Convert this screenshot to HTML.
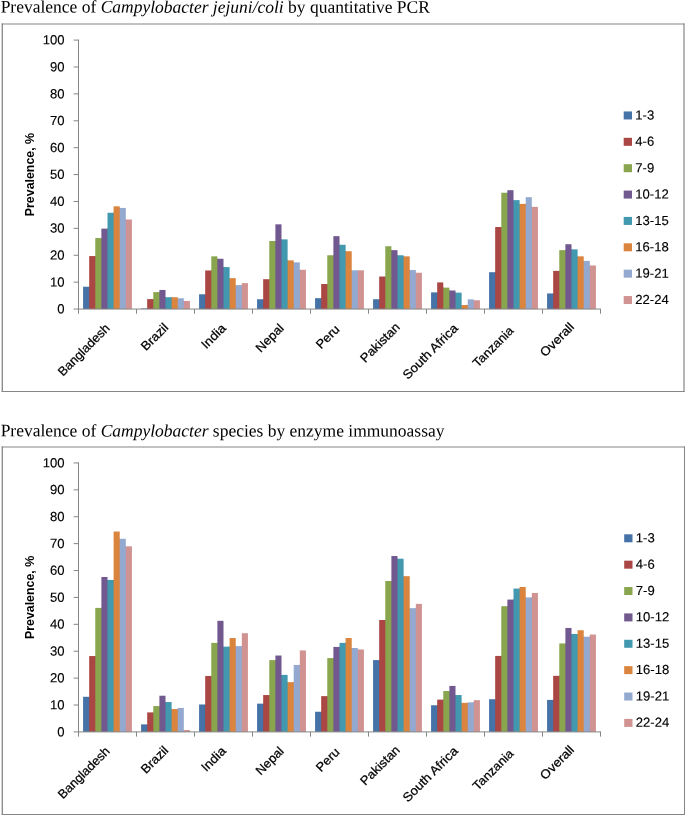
<!DOCTYPE html>
<html><head><meta charset="utf-8"><title>Campylobacter prevalence</title>
<style>
html,body{margin:0;padding:0;background:#fff;}
body{width:685px;height:815px;overflow:hidden;font-family:"Liberation Sans",sans-serif;}
svg{display:block;will-change:transform;}
svg text.s{stroke:#000;stroke-width:0.25px;}
</style></head><body>
<svg width="685" height="815" viewBox="0 0 685 815" font-family="'Liberation Sans', sans-serif">
<rect width="685" height="815" fill="#fff"/>
<text transform="translate(0.65 12.55) rotate(0.03)" font-family="'Liberation Serif', serif" font-size="17.49" style="white-space:pre">Prevalence of <tspan font-style="italic">Campylobacter jejuni/coli</tspan> by quantitative PCR</text>
<text transform="translate(0.65 436.35) rotate(0.03)" font-family="'Liberation Serif', serif" font-size="17.49" style="white-space:pre">Prevalence of <tspan font-style="italic">Campylobacter</tspan> species by enzyme immunoassay</text>
<g class="s"><g stroke="#868686" fill="none">
<line x1="2.3" y1="23.4" x2="2.3" y2="392.025" stroke-width="1.3"/>
<line x1="684.0" y1="23.4" x2="684.0" y2="392.025" stroke-width="1.2"/>
<line x1="1.65" y1="24.0" x2="684.6" y2="24.0" stroke-width="1.2"/>
<line x1="1.65" y1="391.5" x2="684.6" y2="391.5" stroke-width="1.05"/>
</g>
<rect x="89" y="286.73" width="1" height="22.32" fill="#4572A7"/>
<rect x="95" y="256.07" width="1" height="52.98" fill="#AA4643"/>
<rect x="101" y="238.05" width="1" height="71.00" fill="#89A54E"/>
<rect x="107" y="228.63" width="1" height="80.42" fill="#71588F"/>
<rect x="113" y="212.77" width="1" height="96.28" fill="#4198AF"/>
<rect x="119" y="207.92" width="1" height="101.13" fill="#DB843D"/>
<rect x="125" y="219.49" width="1" height="89.56" fill="#93A9CF"/>
<rect x="83.08" y="286.73" width="6.11" height="22.32" fill="#4572A7"/>
<rect x="89.18" y="256.07" width="6.11" height="52.98" fill="#AA4643"/>
<rect x="95.29" y="238.05" width="6.11" height="71.00" fill="#89A54E"/>
<rect x="101.39" y="228.63" width="6.11" height="80.42" fill="#71588F"/>
<rect x="107.50" y="212.77" width="6.11" height="96.28" fill="#4198AF"/>
<rect x="113.61" y="206.31" width="6.11" height="102.74" fill="#DB843D"/>
<rect x="119.71" y="207.92" width="6.11" height="101.13" fill="#93A9CF"/>
<rect x="125.82" y="219.49" width="6.11" height="89.56" fill="#D19392"/>
<rect x="147" y="308.51" width="1" height="0.54" fill="#4572A7"/>
<rect x="153" y="299.10" width="1" height="9.95" fill="#AA4643"/>
<rect x="159" y="292.11" width="1" height="16.94" fill="#89A54E"/>
<rect x="165" y="297.22" width="1" height="11.83" fill="#71588F"/>
<rect x="171" y="297.22" width="1" height="11.83" fill="#4198AF"/>
<rect x="177" y="298.29" width="1" height="10.76" fill="#DB843D"/>
<rect x="183" y="300.98" width="1" height="8.07" fill="#93A9CF"/>
<rect x="141.08" y="308.51" width="6.11" height="0.54" fill="#4572A7"/>
<rect x="147.18" y="299.10" width="6.11" height="9.95" fill="#AA4643"/>
<rect x="153.29" y="292.11" width="6.11" height="16.94" fill="#89A54E"/>
<rect x="159.39" y="289.95" width="6.11" height="19.10" fill="#71588F"/>
<rect x="165.50" y="297.22" width="6.11" height="11.83" fill="#4198AF"/>
<rect x="171.61" y="297.22" width="6.11" height="11.83" fill="#DB843D"/>
<rect x="177.71" y="298.29" width="6.11" height="10.76" fill="#93A9CF"/>
<rect x="183.82" y="300.98" width="6.11" height="8.07" fill="#D19392"/>
<rect x="205" y="294.26" width="1" height="14.79" fill="#4572A7"/>
<rect x="211" y="270.46" width="1" height="38.59" fill="#AA4643"/>
<rect x="217" y="258.76" width="1" height="50.29" fill="#89A54E"/>
<rect x="223" y="267.09" width="1" height="41.96" fill="#71588F"/>
<rect x="229" y="278.12" width="1" height="30.93" fill="#4198AF"/>
<rect x="235" y="285.11" width="1" height="23.94" fill="#DB843D"/>
<rect x="241" y="285.11" width="1" height="23.94" fill="#93A9CF"/>
<rect x="199.08" y="294.26" width="6.11" height="14.79" fill="#4572A7"/>
<rect x="205.18" y="270.46" width="6.11" height="38.59" fill="#AA4643"/>
<rect x="211.29" y="256.34" width="6.11" height="52.71" fill="#89A54E"/>
<rect x="217.39" y="258.76" width="6.11" height="50.29" fill="#71588F"/>
<rect x="223.50" y="267.09" width="6.11" height="41.96" fill="#4198AF"/>
<rect x="229.61" y="278.12" width="6.11" height="30.93" fill="#DB843D"/>
<rect x="235.71" y="285.11" width="6.11" height="23.94" fill="#93A9CF"/>
<rect x="241.82" y="283.10" width="6.11" height="25.95" fill="#D19392"/>
<rect x="263" y="299.23" width="1" height="9.82" fill="#4572A7"/>
<rect x="269" y="279.20" width="1" height="29.85" fill="#AA4643"/>
<rect x="275" y="241.01" width="1" height="68.04" fill="#89A54E"/>
<rect x="281" y="239.39" width="1" height="69.66" fill="#71588F"/>
<rect x="287" y="260.37" width="1" height="48.68" fill="#4198AF"/>
<rect x="293" y="262.39" width="1" height="46.66" fill="#DB843D"/>
<rect x="299" y="269.78" width="1" height="39.27" fill="#93A9CF"/>
<rect x="257.08" y="299.23" width="6.11" height="9.82" fill="#4572A7"/>
<rect x="263.18" y="279.20" width="6.11" height="29.85" fill="#AA4643"/>
<rect x="269.29" y="241.01" width="6.11" height="68.04" fill="#89A54E"/>
<rect x="275.39" y="224.33" width="6.11" height="84.72" fill="#71588F"/>
<rect x="281.50" y="239.39" width="6.11" height="69.66" fill="#4198AF"/>
<rect x="287.61" y="260.37" width="6.11" height="48.68" fill="#DB843D"/>
<rect x="293.71" y="262.39" width="6.11" height="46.66" fill="#93A9CF"/>
<rect x="299.82" y="269.78" width="6.11" height="39.27" fill="#D19392"/>
<rect x="321" y="298.16" width="1" height="10.89" fill="#4572A7"/>
<rect x="327" y="284.04" width="1" height="25.01" fill="#AA4643"/>
<rect x="333" y="255.26" width="1" height="53.79" fill="#89A54E"/>
<rect x="339" y="244.77" width="1" height="64.28" fill="#71588F"/>
<rect x="345" y="251.23" width="1" height="57.82" fill="#4198AF"/>
<rect x="351" y="270.32" width="1" height="38.73" fill="#DB843D"/>
<rect x="357" y="270.32" width="1" height="38.73" fill="#93A9CF"/>
<rect x="315.08" y="298.16" width="6.11" height="10.89" fill="#4572A7"/>
<rect x="321.18" y="284.04" width="6.11" height="25.01" fill="#AA4643"/>
<rect x="327.29" y="255.26" width="6.11" height="53.79" fill="#89A54E"/>
<rect x="333.39" y="236.16" width="6.11" height="72.89" fill="#71588F"/>
<rect x="339.50" y="244.77" width="6.11" height="64.28" fill="#4198AF"/>
<rect x="345.61" y="251.23" width="6.11" height="57.82" fill="#DB843D"/>
<rect x="351.71" y="270.32" width="6.11" height="38.73" fill="#93A9CF"/>
<rect x="357.82" y="270.32" width="6.11" height="38.73" fill="#D19392"/>
<rect x="379" y="299.23" width="1" height="9.82" fill="#4572A7"/>
<rect x="385" y="276.51" width="1" height="32.54" fill="#AA4643"/>
<rect x="391" y="250.15" width="1" height="58.90" fill="#89A54E"/>
<rect x="397" y="255.26" width="1" height="53.79" fill="#71588F"/>
<rect x="403" y="256.34" width="1" height="52.71" fill="#4198AF"/>
<rect x="409" y="270.05" width="1" height="39.00" fill="#DB843D"/>
<rect x="415" y="272.74" width="1" height="36.31" fill="#93A9CF"/>
<rect x="373.08" y="299.23" width="6.11" height="9.82" fill="#4572A7"/>
<rect x="379.18" y="276.51" width="6.11" height="32.54" fill="#AA4643"/>
<rect x="385.29" y="246.25" width="6.11" height="62.80" fill="#89A54E"/>
<rect x="391.39" y="250.15" width="6.11" height="58.90" fill="#71588F"/>
<rect x="397.50" y="255.26" width="6.11" height="53.79" fill="#4198AF"/>
<rect x="403.61" y="256.34" width="6.11" height="52.71" fill="#DB843D"/>
<rect x="409.71" y="270.05" width="6.11" height="39.00" fill="#93A9CF"/>
<rect x="415.82" y="272.74" width="6.11" height="36.31" fill="#D19392"/>
<rect x="437" y="292.38" width="1" height="16.67" fill="#4572A7"/>
<rect x="443" y="287.64" width="1" height="21.41" fill="#AA4643"/>
<rect x="449" y="290.49" width="1" height="18.56" fill="#89A54E"/>
<rect x="455" y="292.64" width="1" height="16.41" fill="#71588F"/>
<rect x="461" y="305.02" width="1" height="4.03" fill="#4198AF"/>
<rect x="467" y="305.02" width="1" height="4.03" fill="#DB843D"/>
<rect x="473" y="300.28" width="1" height="8.77" fill="#93A9CF"/>
<rect x="431.08" y="292.38" width="6.11" height="16.67" fill="#4572A7"/>
<rect x="437.18" y="282.42" width="6.11" height="26.63" fill="#AA4643"/>
<rect x="443.29" y="287.64" width="6.11" height="21.41" fill="#89A54E"/>
<rect x="449.39" y="290.49" width="6.11" height="18.56" fill="#71588F"/>
<rect x="455.50" y="292.64" width="6.11" height="16.41" fill="#4198AF"/>
<rect x="461.61" y="305.02" width="6.11" height="4.03" fill="#DB843D"/>
<rect x="467.71" y="299.37" width="6.11" height="9.68" fill="#93A9CF"/>
<rect x="473.82" y="300.28" width="6.11" height="8.77" fill="#D19392"/>
<rect x="495" y="272.20" width="1" height="36.85" fill="#4572A7"/>
<rect x="501" y="227.02" width="1" height="82.03" fill="#AA4643"/>
<rect x="507" y="192.73" width="1" height="116.32" fill="#89A54E"/>
<rect x="513" y="200.13" width="1" height="108.92" fill="#71588F"/>
<rect x="519" y="203.89" width="1" height="105.16" fill="#4198AF"/>
<rect x="525" y="203.89" width="1" height="105.16" fill="#DB843D"/>
<rect x="531" y="206.85" width="1" height="102.20" fill="#93A9CF"/>
<rect x="489.08" y="272.20" width="6.11" height="36.85" fill="#4572A7"/>
<rect x="495.18" y="227.02" width="6.11" height="82.03" fill="#AA4643"/>
<rect x="501.29" y="192.73" width="6.11" height="116.32" fill="#89A54E"/>
<rect x="507.39" y="190.17" width="6.11" height="118.88" fill="#71588F"/>
<rect x="513.50" y="200.13" width="6.11" height="108.92" fill="#4198AF"/>
<rect x="519.61" y="203.89" width="6.11" height="105.16" fill="#DB843D"/>
<rect x="525.71" y="197.17" width="6.11" height="111.88" fill="#93A9CF"/>
<rect x="531.82" y="206.85" width="6.11" height="102.20" fill="#D19392"/>
<rect x="553" y="293.45" width="1" height="15.60" fill="#4572A7"/>
<rect x="559" y="270.86" width="1" height="38.19" fill="#AA4643"/>
<rect x="565" y="250.15" width="1" height="58.90" fill="#89A54E"/>
<rect x="571" y="249.34" width="1" height="59.71" fill="#71588F"/>
<rect x="577" y="256.34" width="1" height="52.71" fill="#4198AF"/>
<rect x="583" y="260.91" width="1" height="48.14" fill="#DB843D"/>
<rect x="589" y="265.48" width="1" height="43.57" fill="#93A9CF"/>
<rect x="547.08" y="293.45" width="6.11" height="15.60" fill="#4572A7"/>
<rect x="553.18" y="270.86" width="6.11" height="38.19" fill="#AA4643"/>
<rect x="559.29" y="250.15" width="6.11" height="58.90" fill="#89A54E"/>
<rect x="565.39" y="244.23" width="6.11" height="64.82" fill="#71588F"/>
<rect x="571.50" y="249.34" width="6.11" height="59.71" fill="#4198AF"/>
<rect x="577.61" y="256.34" width="6.11" height="52.71" fill="#DB843D"/>
<rect x="583.71" y="260.91" width="6.11" height="48.14" fill="#93A9CF"/>
<rect x="589.82" y="265.48" width="6.11" height="43.57" fill="#D19392"/>
<g stroke="#868686" stroke-width="1" fill="none">
<line x1="78.5" y1="39.60" x2="78.5" y2="313.75"/>
<line x1="73.6" y1="309.05" x2="601.00" y2="309.05"/>
<line x1="73.6" y1="282.16" x2="78.5" y2="282.16"/>
<line x1="73.6" y1="255.26" x2="78.5" y2="255.26"/>
<line x1="73.6" y1="228.37" x2="78.5" y2="228.37"/>
<line x1="73.6" y1="201.47" x2="78.5" y2="201.47"/>
<line x1="73.6" y1="174.58" x2="78.5" y2="174.58"/>
<line x1="73.6" y1="147.68" x2="78.5" y2="147.68"/>
<line x1="73.6" y1="120.79" x2="78.5" y2="120.79"/>
<line x1="73.6" y1="93.89" x2="78.5" y2="93.89"/>
<line x1="73.6" y1="67.00" x2="78.5" y2="67.00"/>
<line x1="73.6" y1="40.10" x2="78.5" y2="40.10"/>
<line x1="136.50" y1="309.05" x2="136.50" y2="313.75"/>
<line x1="194.50" y1="309.05" x2="194.50" y2="313.75"/>
<line x1="252.50" y1="309.05" x2="252.50" y2="313.75"/>
<line x1="310.50" y1="309.05" x2="310.50" y2="313.75"/>
<line x1="368.50" y1="309.05" x2="368.50" y2="313.75"/>
<line x1="426.50" y1="309.05" x2="426.50" y2="313.75"/>
<line x1="484.50" y1="309.05" x2="484.50" y2="313.75"/>
<line x1="542.50" y1="309.05" x2="542.50" y2="313.75"/>
<line x1="600.50" y1="309.05" x2="600.50" y2="313.75"/>
</g>
<g font-size="13.1" text-anchor="end" fill="#000" stroke="#000" stroke-width="0.15">
<text transform="translate(64.5 313.30) rotate(0.03)">0</text>
<text transform="translate(64.5 286.41) rotate(0.03)">10</text>
<text transform="translate(64.5 259.51) rotate(0.03)">20</text>
<text transform="translate(64.5 232.62) rotate(0.03)">30</text>
<text transform="translate(64.5 205.72) rotate(0.03)">40</text>
<text transform="translate(64.5 178.83) rotate(0.03)">50</text>
<text transform="translate(64.5 151.93) rotate(0.03)">60</text>
<text transform="translate(64.5 125.04) rotate(0.03)">70</text>
<text transform="translate(64.5 98.14) rotate(0.03)">80</text>
<text transform="translate(64.5 71.25) rotate(0.03)">90</text>
<text transform="translate(64.5 44.35) rotate(0.03)">100</text>
</g>
<text transform="translate(34.2 174.58) rotate(-90)" text-anchor="middle" font-weight="bold" font-size="12.5" textLength="83.3" lengthAdjust="spacingAndGlyphs">Prevalence, %</text>
<text class="s" transform="translate(110.65 329.00) rotate(-45)" text-anchor="end" font-size="12.5" textLength="67.5" lengthAdjust="spacingAndGlyphs">Bangladesh</text>
<text class="s" transform="translate(169.15 328.30) rotate(-45)" text-anchor="end" font-size="12.5" textLength="32.6" lengthAdjust="spacingAndGlyphs">Brazil</text>
<text class="s" transform="translate(226.65 329.00) rotate(-45)" text-anchor="end" font-size="12.5" textLength="29.0" lengthAdjust="spacingAndGlyphs">India</text>
<text class="s" transform="translate(284.65 329.00) rotate(-45)" text-anchor="end" font-size="12.5" textLength="33.8" lengthAdjust="spacingAndGlyphs">Nepal</text>
<text class="s" transform="translate(340.45 330.05) rotate(-45)" text-anchor="end" font-size="12.5" textLength="27.6" lengthAdjust="spacingAndGlyphs">Peru</text>
<text class="s" transform="translate(400.65 327.90) rotate(-45)" text-anchor="end" font-size="12.5" textLength="50.0" lengthAdjust="spacingAndGlyphs">Pakistan</text>
<text class="s" transform="translate(458.65 329.00) rotate(-45)" text-anchor="end" font-size="12.5" textLength="72.1" lengthAdjust="spacingAndGlyphs">South Africa</text>
<text class="s" transform="translate(514.30 331.55) rotate(-45)" text-anchor="end" font-size="12.5" textLength="51.6" lengthAdjust="spacingAndGlyphs">Tanzania</text>
<text class="s" transform="translate(574.95 327.70) rotate(-45)" text-anchor="end" font-size="12.5" textLength="42.2" lengthAdjust="spacingAndGlyphs">Overall</text>
<rect x="623.7" y="111.45" width="8.3" height="8" fill="#4572A7"/>
<text transform="translate(635.3 119.40) rotate(0.03)" font-size="13.1" stroke="#000" stroke-width="0.15">1-3</text>
<rect x="623.7" y="137.82" width="8.3" height="8" fill="#AA4643"/>
<text transform="translate(635.3 145.77) rotate(0.03)" font-size="13.1" stroke="#000" stroke-width="0.15">4-6</text>
<rect x="623.7" y="164.19" width="8.3" height="8" fill="#89A54E"/>
<text transform="translate(635.3 172.14) rotate(0.03)" font-size="13.1" stroke="#000" stroke-width="0.15">7-9</text>
<rect x="623.7" y="190.56" width="8.3" height="8" fill="#71588F"/>
<text transform="translate(635.3 198.51) rotate(0.03)" font-size="13.1" stroke="#000" stroke-width="0.15">10-12</text>
<rect x="623.7" y="216.93" width="8.3" height="8" fill="#4198AF"/>
<text transform="translate(635.3 224.88) rotate(0.03)" font-size="13.1" stroke="#000" stroke-width="0.15">13-15</text>
<rect x="623.7" y="243.30" width="8.3" height="8" fill="#DB843D"/>
<text transform="translate(635.3 251.25) rotate(0.03)" font-size="13.1" stroke="#000" stroke-width="0.15">16-18</text>
<rect x="623.7" y="269.67" width="8.3" height="8" fill="#93A9CF"/>
<text transform="translate(635.3 277.62) rotate(0.03)" font-size="13.1" stroke="#000" stroke-width="0.15">19-21</text>
<rect x="623.7" y="296.04" width="8.3" height="8" fill="#D19392"/>
<text transform="translate(635.3 303.99) rotate(0.03)" font-size="13.1" stroke="#000" stroke-width="0.15">22-24</text></g>
<g class="s"><g stroke="#868686" fill="none">
<line x1="2.3" y1="446.4" x2="2.3" y2="815.0" stroke-width="1.3"/>
<line x1="684.5" y1="446.4" x2="684.5" y2="815.0" stroke-width="1.0"/>
<line x1="1.65" y1="447.0" x2="685.0" y2="447.0" stroke-width="1.2"/>
<line x1="1.65" y1="814.5" x2="685.0" y2="814.5" stroke-width="1.0"/>
</g>
<rect x="89" y="696.80" width="1" height="35.10" fill="#4572A7"/>
<rect x="95" y="656.06" width="1" height="75.84" fill="#AA4643"/>
<rect x="101" y="607.91" width="1" height="123.99" fill="#89A54E"/>
<rect x="107" y="579.94" width="1" height="151.96" fill="#71588F"/>
<rect x="113" y="579.94" width="1" height="151.96" fill="#4198AF"/>
<rect x="119" y="538.79" width="1" height="193.11" fill="#DB843D"/>
<rect x="125" y="546.32" width="1" height="185.58" fill="#93A9CF"/>
<rect x="83.08" y="696.80" width="6.11" height="35.10" fill="#4572A7"/>
<rect x="89.18" y="656.06" width="6.11" height="75.84" fill="#AA4643"/>
<rect x="95.29" y="607.91" width="6.11" height="123.99" fill="#89A54E"/>
<rect x="101.39" y="576.98" width="6.11" height="154.92" fill="#71588F"/>
<rect x="107.50" y="579.94" width="6.11" height="151.96" fill="#4198AF"/>
<rect x="113.61" y="531.53" width="6.11" height="200.37" fill="#DB843D"/>
<rect x="119.71" y="538.79" width="6.11" height="193.11" fill="#93A9CF"/>
<rect x="125.82" y="546.32" width="6.11" height="185.58" fill="#D19392"/>
<rect x="147" y="724.37" width="1" height="7.53" fill="#4572A7"/>
<rect x="153" y="712.40" width="1" height="19.50" fill="#AA4643"/>
<rect x="159" y="706.08" width="1" height="25.82" fill="#89A54E"/>
<rect x="165" y="702.05" width="1" height="29.85" fill="#71588F"/>
<rect x="171" y="709.04" width="1" height="22.86" fill="#4198AF"/>
<rect x="177" y="709.04" width="1" height="22.86" fill="#DB843D"/>
<rect x="183" y="730.02" width="1" height="1.88" fill="#93A9CF"/>
<rect x="141.08" y="724.37" width="6.11" height="7.53" fill="#4572A7"/>
<rect x="147.18" y="712.40" width="6.11" height="19.50" fill="#AA4643"/>
<rect x="153.29" y="706.08" width="6.11" height="25.82" fill="#89A54E"/>
<rect x="159.39" y="695.73" width="6.11" height="36.17" fill="#71588F"/>
<rect x="165.50" y="702.05" width="6.11" height="29.85" fill="#4198AF"/>
<rect x="171.61" y="709.04" width="6.11" height="22.86" fill="#DB843D"/>
<rect x="177.71" y="707.96" width="6.11" height="23.94" fill="#93A9CF"/>
<rect x="183.82" y="730.02" width="6.11" height="1.88" fill="#D19392"/>
<rect x="205" y="704.47" width="1" height="27.43" fill="#4572A7"/>
<rect x="211" y="675.96" width="1" height="55.94" fill="#AA4643"/>
<rect x="217" y="642.88" width="1" height="89.02" fill="#89A54E"/>
<rect x="223" y="646.64" width="1" height="85.26" fill="#71588F"/>
<rect x="229" y="646.64" width="1" height="85.26" fill="#4198AF"/>
<rect x="235" y="646.10" width="1" height="85.80" fill="#DB843D"/>
<rect x="241" y="646.10" width="1" height="85.80" fill="#93A9CF"/>
<rect x="199.08" y="704.47" width="6.11" height="27.43" fill="#4572A7"/>
<rect x="205.18" y="675.96" width="6.11" height="55.94" fill="#AA4643"/>
<rect x="211.29" y="642.88" width="6.11" height="89.02" fill="#89A54E"/>
<rect x="217.39" y="620.82" width="6.11" height="111.08" fill="#71588F"/>
<rect x="223.50" y="646.64" width="6.11" height="85.26" fill="#4198AF"/>
<rect x="229.61" y="638.04" width="6.11" height="93.86" fill="#DB843D"/>
<rect x="235.71" y="646.10" width="6.11" height="85.80" fill="#93A9CF"/>
<rect x="241.82" y="633.20" width="6.11" height="98.70" fill="#D19392"/>
<rect x="263" y="703.66" width="1" height="28.24" fill="#4572A7"/>
<rect x="269" y="695.05" width="1" height="36.85" fill="#AA4643"/>
<rect x="275" y="660.09" width="1" height="71.81" fill="#89A54E"/>
<rect x="281" y="674.88" width="1" height="57.02" fill="#71588F"/>
<rect x="287" y="682.14" width="1" height="49.76" fill="#4198AF"/>
<rect x="293" y="682.14" width="1" height="49.76" fill="#DB843D"/>
<rect x="299" y="664.93" width="1" height="66.97" fill="#93A9CF"/>
<rect x="257.08" y="703.66" width="6.11" height="28.24" fill="#4572A7"/>
<rect x="263.18" y="695.05" width="6.11" height="36.85" fill="#AA4643"/>
<rect x="269.29" y="660.09" width="6.11" height="71.81" fill="#89A54E"/>
<rect x="275.39" y="655.52" width="6.11" height="76.38" fill="#71588F"/>
<rect x="281.50" y="674.88" width="6.11" height="57.02" fill="#4198AF"/>
<rect x="287.61" y="682.14" width="6.11" height="49.76" fill="#DB843D"/>
<rect x="293.71" y="664.93" width="6.11" height="66.97" fill="#93A9CF"/>
<rect x="299.82" y="650.41" width="6.11" height="81.49" fill="#D19392"/>
<rect x="321" y="711.73" width="1" height="20.17" fill="#4572A7"/>
<rect x="327" y="696.13" width="1" height="35.77" fill="#AA4643"/>
<rect x="333" y="658.07" width="1" height="73.83" fill="#89A54E"/>
<rect x="339" y="646.91" width="1" height="84.99" fill="#71588F"/>
<rect x="345" y="642.88" width="1" height="89.02" fill="#4198AF"/>
<rect x="351" y="647.99" width="1" height="83.91" fill="#DB843D"/>
<rect x="357" y="649.47" width="1" height="82.43" fill="#93A9CF"/>
<rect x="315.08" y="711.73" width="6.11" height="20.17" fill="#4572A7"/>
<rect x="321.18" y="696.13" width="6.11" height="35.77" fill="#AA4643"/>
<rect x="327.29" y="658.07" width="6.11" height="73.83" fill="#89A54E"/>
<rect x="333.39" y="646.91" width="6.11" height="84.99" fill="#71588F"/>
<rect x="339.50" y="642.88" width="6.11" height="89.02" fill="#4198AF"/>
<rect x="345.61" y="638.04" width="6.11" height="93.86" fill="#DB843D"/>
<rect x="351.71" y="647.99" width="6.11" height="83.91" fill="#93A9CF"/>
<rect x="357.82" y="649.47" width="6.11" height="82.43" fill="#D19392"/>
<rect x="379" y="660.09" width="1" height="71.81" fill="#4572A7"/>
<rect x="385" y="620.02" width="1" height="111.88" fill="#AA4643"/>
<rect x="391" y="581.02" width="1" height="150.88" fill="#89A54E"/>
<rect x="397" y="558.70" width="1" height="173.20" fill="#71588F"/>
<rect x="403" y="576.18" width="1" height="155.72" fill="#4198AF"/>
<rect x="409" y="608.18" width="1" height="123.72" fill="#DB843D"/>
<rect x="415" y="608.18" width="1" height="123.72" fill="#93A9CF"/>
<rect x="373.08" y="660.09" width="6.11" height="71.81" fill="#4572A7"/>
<rect x="379.18" y="620.02" width="6.11" height="111.88" fill="#AA4643"/>
<rect x="385.29" y="581.02" width="6.11" height="150.88" fill="#89A54E"/>
<rect x="391.39" y="556.01" width="6.11" height="175.89" fill="#71588F"/>
<rect x="397.50" y="558.70" width="6.11" height="173.20" fill="#4198AF"/>
<rect x="403.61" y="576.18" width="6.11" height="155.72" fill="#DB843D"/>
<rect x="409.71" y="608.18" width="6.11" height="123.72" fill="#93A9CF"/>
<rect x="415.82" y="603.88" width="6.11" height="128.02" fill="#D19392"/>
<rect x="437" y="705.27" width="1" height="26.63" fill="#4572A7"/>
<rect x="443" y="699.63" width="1" height="32.27" fill="#AA4643"/>
<rect x="449" y="691.02" width="1" height="40.88" fill="#89A54E"/>
<rect x="455" y="695.05" width="1" height="36.85" fill="#71588F"/>
<rect x="461" y="702.85" width="1" height="29.05" fill="#4198AF"/>
<rect x="467" y="702.85" width="1" height="29.05" fill="#DB843D"/>
<rect x="473" y="702.32" width="1" height="29.58" fill="#93A9CF"/>
<rect x="431.08" y="705.27" width="6.11" height="26.63" fill="#4572A7"/>
<rect x="437.18" y="699.63" width="6.11" height="32.27" fill="#AA4643"/>
<rect x="443.29" y="691.02" width="6.11" height="40.88" fill="#89A54E"/>
<rect x="449.39" y="685.91" width="6.11" height="45.99" fill="#71588F"/>
<rect x="455.50" y="695.05" width="6.11" height="36.85" fill="#4198AF"/>
<rect x="461.61" y="702.85" width="6.11" height="29.05" fill="#DB843D"/>
<rect x="467.71" y="702.32" width="6.11" height="29.58" fill="#93A9CF"/>
<rect x="473.82" y="700.16" width="6.11" height="31.74" fill="#D19392"/>
<rect x="495" y="699.22" width="1" height="32.68" fill="#4572A7"/>
<rect x="501" y="655.92" width="1" height="75.98" fill="#AA4643"/>
<rect x="507" y="606.17" width="1" height="125.73" fill="#89A54E"/>
<rect x="513" y="599.58" width="1" height="132.32" fill="#71588F"/>
<rect x="519" y="588.55" width="1" height="143.35" fill="#4198AF"/>
<rect x="525" y="597.43" width="1" height="134.48" fill="#DB843D"/>
<rect x="531" y="597.43" width="1" height="134.48" fill="#93A9CF"/>
<rect x="489.08" y="699.22" width="6.11" height="32.68" fill="#4572A7"/>
<rect x="495.18" y="655.92" width="6.11" height="75.98" fill="#AA4643"/>
<rect x="501.29" y="606.17" width="6.11" height="125.73" fill="#89A54E"/>
<rect x="507.39" y="599.58" width="6.11" height="132.32" fill="#71588F"/>
<rect x="513.50" y="588.55" width="6.11" height="143.35" fill="#4198AF"/>
<rect x="519.61" y="586.94" width="6.11" height="144.96" fill="#DB843D"/>
<rect x="525.71" y="597.43" width="6.11" height="134.48" fill="#93A9CF"/>
<rect x="531.82" y="592.99" width="6.11" height="138.91" fill="#D19392"/>
<rect x="553" y="699.89" width="1" height="32.01" fill="#4572A7"/>
<rect x="559" y="675.82" width="1" height="56.08" fill="#AA4643"/>
<rect x="565" y="643.42" width="1" height="88.48" fill="#89A54E"/>
<rect x="571" y="634.00" width="1" height="97.90" fill="#71588F"/>
<rect x="577" y="634.00" width="1" height="97.90" fill="#4198AF"/>
<rect x="583" y="636.69" width="1" height="95.21" fill="#DB843D"/>
<rect x="589" y="636.69" width="1" height="95.21" fill="#93A9CF"/>
<rect x="547.08" y="699.89" width="6.11" height="32.01" fill="#4572A7"/>
<rect x="553.18" y="675.82" width="6.11" height="56.08" fill="#AA4643"/>
<rect x="559.29" y="643.42" width="6.11" height="88.48" fill="#89A54E"/>
<rect x="565.39" y="627.95" width="6.11" height="103.95" fill="#71588F"/>
<rect x="571.50" y="634.00" width="6.11" height="97.90" fill="#4198AF"/>
<rect x="577.61" y="630.24" width="6.11" height="101.66" fill="#DB843D"/>
<rect x="583.71" y="636.69" width="6.11" height="95.21" fill="#93A9CF"/>
<rect x="589.82" y="634.54" width="6.11" height="97.36" fill="#D19392"/>
<g stroke="#868686" stroke-width="1" fill="none">
<line x1="78.5" y1="462.45" x2="78.5" y2="736.60"/>
<line x1="73.6" y1="731.90" x2="601.00" y2="731.90"/>
<line x1="73.6" y1="705.01" x2="78.5" y2="705.01"/>
<line x1="73.6" y1="678.11" x2="78.5" y2="678.11"/>
<line x1="73.6" y1="651.22" x2="78.5" y2="651.22"/>
<line x1="73.6" y1="624.32" x2="78.5" y2="624.32"/>
<line x1="73.6" y1="597.43" x2="78.5" y2="597.43"/>
<line x1="73.6" y1="570.53" x2="78.5" y2="570.53"/>
<line x1="73.6" y1="543.63" x2="78.5" y2="543.63"/>
<line x1="73.6" y1="516.74" x2="78.5" y2="516.74"/>
<line x1="73.6" y1="489.85" x2="78.5" y2="489.85"/>
<line x1="73.6" y1="462.95" x2="78.5" y2="462.95"/>
<line x1="136.50" y1="731.90" x2="136.50" y2="736.60"/>
<line x1="194.50" y1="731.90" x2="194.50" y2="736.60"/>
<line x1="252.50" y1="731.90" x2="252.50" y2="736.60"/>
<line x1="310.50" y1="731.90" x2="310.50" y2="736.60"/>
<line x1="368.50" y1="731.90" x2="368.50" y2="736.60"/>
<line x1="426.50" y1="731.90" x2="426.50" y2="736.60"/>
<line x1="484.50" y1="731.90" x2="484.50" y2="736.60"/>
<line x1="542.50" y1="731.90" x2="542.50" y2="736.60"/>
<line x1="600.50" y1="731.90" x2="600.50" y2="736.60"/>
</g>
<g font-size="13.1" text-anchor="end" fill="#000" stroke="#000" stroke-width="0.15">
<text transform="translate(64.5 736.15) rotate(0.03)">0</text>
<text transform="translate(64.5 709.26) rotate(0.03)">10</text>
<text transform="translate(64.5 682.36) rotate(0.03)">20</text>
<text transform="translate(64.5 655.47) rotate(0.03)">30</text>
<text transform="translate(64.5 628.57) rotate(0.03)">40</text>
<text transform="translate(64.5 601.68) rotate(0.03)">50</text>
<text transform="translate(64.5 574.78) rotate(0.03)">60</text>
<text transform="translate(64.5 547.88) rotate(0.03)">70</text>
<text transform="translate(64.5 520.99) rotate(0.03)">80</text>
<text transform="translate(64.5 494.10) rotate(0.03)">90</text>
<text transform="translate(64.5 467.20) rotate(0.03)">100</text>
</g>
<text transform="translate(34.2 597.43) rotate(-90)" text-anchor="middle" font-weight="bold" font-size="12.5" textLength="83.3" lengthAdjust="spacingAndGlyphs">Prevalence, %</text>
<text class="s" transform="translate(110.65 751.85) rotate(-45)" text-anchor="end" font-size="12.5" textLength="67.5" lengthAdjust="spacingAndGlyphs">Bangladesh</text>
<text class="s" transform="translate(169.15 751.15) rotate(-45)" text-anchor="end" font-size="12.5" textLength="32.6" lengthAdjust="spacingAndGlyphs">Brazil</text>
<text class="s" transform="translate(226.65 751.85) rotate(-45)" text-anchor="end" font-size="12.5" textLength="29.0" lengthAdjust="spacingAndGlyphs">India</text>
<text class="s" transform="translate(284.65 751.85) rotate(-45)" text-anchor="end" font-size="12.5" textLength="33.8" lengthAdjust="spacingAndGlyphs">Nepal</text>
<text class="s" transform="translate(340.45 752.90) rotate(-45)" text-anchor="end" font-size="12.5" textLength="27.6" lengthAdjust="spacingAndGlyphs">Peru</text>
<text class="s" transform="translate(400.65 750.75) rotate(-45)" text-anchor="end" font-size="12.5" textLength="50.0" lengthAdjust="spacingAndGlyphs">Pakistan</text>
<text class="s" transform="translate(458.65 751.85) rotate(-45)" text-anchor="end" font-size="12.5" textLength="72.1" lengthAdjust="spacingAndGlyphs">South Africa</text>
<text class="s" transform="translate(514.30 754.40) rotate(-45)" text-anchor="end" font-size="12.5" textLength="51.6" lengthAdjust="spacingAndGlyphs">Tanzania</text>
<text class="s" transform="translate(574.95 750.55) rotate(-45)" text-anchor="end" font-size="12.5" textLength="42.2" lengthAdjust="spacingAndGlyphs">Overall</text>
<rect x="624.2" y="534.30" width="8.3" height="8" fill="#4572A7"/>
<text transform="translate(635.8 542.25) rotate(0.03)" font-size="13.1" stroke="#000" stroke-width="0.15">1-3</text>
<rect x="624.2" y="560.67" width="8.3" height="8" fill="#AA4643"/>
<text transform="translate(635.8 568.62) rotate(0.03)" font-size="13.1" stroke="#000" stroke-width="0.15">4-6</text>
<rect x="624.2" y="587.04" width="8.3" height="8" fill="#89A54E"/>
<text transform="translate(635.8 594.99) rotate(0.03)" font-size="13.1" stroke="#000" stroke-width="0.15">7-9</text>
<rect x="624.2" y="613.41" width="8.3" height="8" fill="#71588F"/>
<text transform="translate(635.8 621.36) rotate(0.03)" font-size="13.1" stroke="#000" stroke-width="0.15">10-12</text>
<rect x="624.2" y="639.78" width="8.3" height="8" fill="#4198AF"/>
<text transform="translate(635.8 647.73) rotate(0.03)" font-size="13.1" stroke="#000" stroke-width="0.15">13-15</text>
<rect x="624.2" y="666.15" width="8.3" height="8" fill="#DB843D"/>
<text transform="translate(635.8 674.10) rotate(0.03)" font-size="13.1" stroke="#000" stroke-width="0.15">16-18</text>
<rect x="624.2" y="692.52" width="8.3" height="8" fill="#93A9CF"/>
<text transform="translate(635.8 700.47) rotate(0.03)" font-size="13.1" stroke="#000" stroke-width="0.15">19-21</text>
<rect x="624.2" y="718.89" width="8.3" height="8" fill="#D19392"/>
<text transform="translate(635.8 726.84) rotate(0.03)" font-size="13.1" stroke="#000" stroke-width="0.15">22-24</text></g>
</svg>
</body></html>
